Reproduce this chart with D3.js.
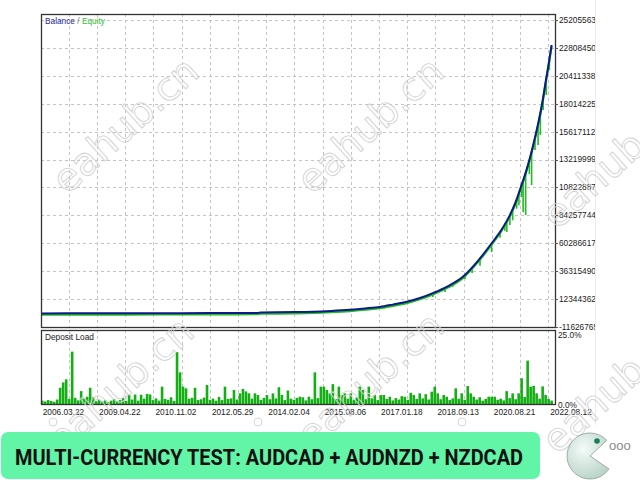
<!DOCTYPE html>
<html>
<head>
<meta charset="utf-8">
<script src="https://cdn.jsdelivr.net/npm/d3@7"></script>
<style>
  body { margin: 0; background: #fff; }
  svg { display: block; }
</style>
</head>
<body>
<script>
// ---- data ----
var yTickLabels = ["25205563", "22808450", "20411338", "18014225", "15617112", "13219999",
                   "10822887", "84257744", "60286617", "36315490", "12344362", "-11626765"];
var yTickValues = [25205563, 22808450, 20411338, 18014225, 15617112, 13219999,
                   10822887, 8425774, 6028662, 3631549, 1234436, -1162677];

var dateLabels = ["2006.03.22", "2009.04.22", "2010.11.02", "2012.05.29", "2014.02.04",
                  "2015.08.06", "2017.01.18", "2018.09.13", "2020.08.21", "2022.08.12"];

// balance curve, position in grid steps and value
var balancePos = [0, 2, 4, 6, 7.7, 7.8, 9, 9.66, 10.3, 10.97, 11.5, 12.03, 12.49, 12.98, 13.45, 13.91,
                  14.45, 14.97, 15.5, 16.0, 16.33, 16.64, 16.85, 17.03, 17.2, 17.35, 17.5, 17.67,
                  17.8, 17.92, 18.02, 18.12];
var balanceValues = [5000, 12000, 22000, 35000, 50000, 90000, 115000, 150000, 220000, 320000, 430000,
                     560000, 760000, 1000000, 1330000, 1750000, 2350000, 3150000, 4500000, 6050000,
                     7150000, 8450000, 9600000, 10860000, 12100000, 13350000, 14800000, 16610000,
                     18250000, 20050000, 21500000, 23060000];

// equity drawdown spikes
var spikePos  = [13.91, 14.34, 14.62, 15.05, 15.3, 15.58, 15.99, 16.29, 16.46, 16.53, 16.64, 16.74,
                 16.88, 16.96, 17.06, 17.11, 17.2, 17.33, 17.41, 17.53, 17.64, 17.72, 17.82, 17.93, 18.04];
var spikeHigh = [1750000, 2220000, 2600000, 3300000, 3950000, 4750000, 6000000, 7000000, 7750000,
                 8000000, 8450000, 9000000, 9800000, 10350000, 11050000, 11450000, 12100000, 13200000,
                 13900000, 15100000, 16300000, 17200000, 18500000, 20200000, 21800000];
var spikeLow  = [1410000, 1840000, 2300000, 2950000, 3470000, 4100000, 5270000, 6500000, 7100000,
                 7000000, 7600000, 8000000, 9000000, 9300000, 10000000, 8700000, 8450000, 11970000,
                 11030000, 14040000, 14460000, 15320000, 17470000, 18760000, 20900000];

// deposit load, percent
var depositLoad = [
  1.2, 0.9, 1.4, 1.1, 0.8, 1.6, 5.8, 7.7, 8.8, 1.8,
  18.7, 2.2, 1.3, 4.6, 1.9, 2.6, 5.8, 2.4, 1.0, 1.5,
  0.9, 1.3, 0.7, 1.2, 1.8, 1.0, 1.4, 2.1, 1.1, 3.2,
  1.6, 3.4, 1.2, 3.3, 1.9, 3.6, 3.4, 1.4, 2.0, 1.2,
  6.2, 1.8, 1.5, 2.4, 1.1, 18.5, 11.3, 6.2, 5.6, 1.9,
  2.2, 5.8, 1.4, 1.7, 2.3, 6.8, 1.5, 1.9, 1.2, 2.5,
  1.4, 6.2, 1.8, 2.0, 5.0, 1.6, 3.8, 5.4, 4.5, 3.8,
  1.9, 3.8, 3.2, 1.5, 2.2, 3.2, 1.7, 3.8, 2.0, 6.0,
  3.2, 1.4, 4.8, 1.9, 1.5, 2.2, 2.6, 2.4, 1.3, 2.6,
  1.7, 11.3, 2.1, 6.2, 6.2, 5.0, 3.8, 7.1, 1.8, 6.2,
  3.2, 3.8, 1.9, 3.8, 1.5, 2.3, 6.2, 5.0, 1.7, 6.2,
  2.0, 3.2, 1.4, 3.2, 3.2, 1.8, 2.6, 1.3, 2.1, 1.6,
  2.8, 2.6, 1.5, 4.0, 3.2, 1.8, 3.8, 2.0, 3.5, 1.6,
  4.4, 6.2, 3.8, 1.7, 3.2, 2.6, 1.4, 2.0, 5.6, 1.9,
  3.8, 1.5, 6.4, 3.8, 2.6, 1.6, 2.4, 1.2, 1.8, 2.6,
  2.6, 2.6, 1.5, 1.9, 1.3, 4.6, 2.1, 3.8, 1.7, 3.8,
  9.2, 2.5, 15.5, 6.2, 6.5, 3.8, 1.9, 6.3, 3.2, 1.8, 1.2
];
var loadTickValues = [25, 0];
var loadTickLabels = ["25.0%", "0.0%"];

var titleText = "MULTI-CURRENCY TEST: AUDCAD + AUDNZD + NZDCAD";

// ---- layout ----
var W = 640, H = 480;
var plot = {left: 41, right: 555, top: 14, bottom: 327};
var load = {top: 330, bottom: 404};
var font = "'Liberation Sans', Arial, sans-serif";

var svg = d3.select("body").append("svg")
    .attr("width", W)
    .attr("height", H);

svg.append("rect").attr("width", W).attr("height", H).attr("fill", "#fff");

// the terminal picture ends at x=595
svg.append("defs").append("clipPath").attr("id", "pic")
  .append("rect").attr("x", 0).attr("y", 0).attr("width", 595).attr("height", 425);
svg.select("defs").append("clipPath").attr("id", "plotclip")
  .append("rect").attr("x", plot.left).attr("y", plot.top)
    .attr("width", plot.right - plot.left).attr("height", plot.bottom - plot.top);

var chart = svg.append("g").attr("clip-path", "url(#pic)");

svg.append("line")
    .attr("x1", 595.5).attr("x2", 595.5).attr("y1", 0).attr("y2", 425)
    .attr("stroke", "#ececec");

// scales
var x = d3.scaleLinear().domain([0, 18.24]).range([40.7, plot.right]);
var y = d3.scaleLinear()
    .domain([yTickValues[yTickValues.length - 1], yTickValues[0]])
    .range([plot.bottom, 20]);
var yLoad = d3.scaleLinear().domain([0, 25]).range([load.bottom, 334]);
var xBar = d3.scaleLinear()
    .domain([0, depositLoad.length - 1])
    .range([x(0) + 1.5, x(balancePos[balancePos.length - 1])]);

// grid
var gridX = d3.range(1, 19);
var grid = chart.append("g")
    .attr("stroke", "#c4c4c4")
    .attr("stroke-dasharray", "3,3")
    .attr("shape-rendering", "crispEdges");
grid.selectAll(".gx").data(gridX).enter().append("line")
    .attr("x1", function(d) { return Math.round(x(d)) + 0.5; })
    .attr("x2", function(d) { return Math.round(x(d)) + 0.5; })
    .attr("y1", plot.top).attr("y2", plot.bottom);
grid.selectAll(".gl").data(gridX).enter().append("line")
    .attr("x1", function(d) { return Math.round(x(d)) + 0.5; })
    .attr("x2", function(d) { return Math.round(x(d)) + 0.5; })
    .attr("y1", load.top).attr("y2", load.bottom);
grid.selectAll(".gy").data(yTickValues.slice(0, -1)).enter().append("line")
    .attr("x1", plot.left).attr("x2", plot.right)
    .attr("y1", function(d) { return Math.round(y(d)) + 0.5; })
    .attr("y2", function(d) { return Math.round(y(d)) + 0.5; });

// watermark, light outline behind the marks
var marks = [[125, 125], [370, 125], [615, 160], [120, 385], [370, 380], [615, 385]];
svg.append("g").selectAll("text").data(marks).enter().append("text")
    .attr("transform", function(d) { return "translate(" + d[0] + "," + d[1] + ") rotate(-42)"; })
    .attr("text-anchor", "middle")
    .attr("dy", "0.35em")
    .attr("font-family", "'DejaVu Sans', sans-serif")
    .attr("font-size", 39)
    .attr("fill", "none")
    .attr("stroke", "#d2d2d2")
    .attr("stroke-width", 0.9)
    .text("eahub.cn");
svg.append("g").selectAll("circle").data([53, 258, 462]).enter().append("circle")
    .attr("cx", function(d) { return d; }).attr("cy", 422).attr("r", 4)
    .attr("fill", "none").attr("stroke", "#d2d2d2").attr("stroke-width", 0.9);

// deposit load bars
chart.append("g").selectAll("rect").data(depositLoad).enter().append("rect")
    .attr("x", function(d, i) { return xBar(i) - 1.3; })
    .attr("width", 2.6)
    .attr("y", function(d) { return yLoad(d); })
    .attr("height", function(d) { return load.bottom - yLoad(d); })
    .attr("fill", "#12b012");

// equity and balance
var balData = balancePos.map(function(p, i) { return [p, balanceValues[i]]; });
var line = d3.line()
    .x(function(d) { return x(d[0]); })
    .y(function(d) { return y(d[1]); })
    .curve(d3.curveMonotoneX);

var lines = chart.append("g").attr("clip-path", "url(#plotclip)");
lines.append("path").datum(balData)
    .attr("d", line)
    .attr("transform", "translate(0,1.3)")
    .attr("fill", "none")
    .attr("stroke", "#22bb22")
    .attr("stroke-width", 2.2);
lines.append("g").selectAll("line").data(spikePos).enter().append("line")
    .attr("x1", function(d) { return x(d); })
    .attr("x2", function(d) { return x(d); })
    .attr("y1", function(d, i) { return y(spikeHigh[i]); })
    .attr("y2", function(d, i) { return y(spikeLow[i]); })
    .attr("stroke", "#22bb22")
    .attr("stroke-width", 1.6);
lines.append("path").datum(balData)
    .attr("d", line)
    .attr("fill", "none")
    .attr("stroke", "#0c1a8a")
    .attr("stroke-width", 2);

// frames
chart.append("rect")
    .attr("x", plot.left + 0.5).attr("y", plot.top + 0.5)
    .attr("width", plot.right - plot.left).attr("height", plot.bottom - plot.top)
    .attr("fill", "none").attr("stroke", "#333").attr("stroke-width", 1.3);
chart.append("rect")
    .attr("x", plot.left + 0.5).attr("y", load.top + 0.5)
    .attr("width", plot.right - plot.left).attr("height", load.bottom - load.top)
    .attr("fill", "none").attr("stroke", "#333").attr("stroke-width", 1.3);

// y axis labels
var yAxis = chart.append("g").attr("font-family", font).attr("font-size", 8.3).attr("fill", "#222");
yAxis.selectAll("line").data(yTickValues).enter().append("line")
    .attr("x1", plot.right).attr("x2", plot.right + 3)
    .attr("y1", function(d) { return Math.round(y(d)) + 0.5; })
    .attr("y2", function(d) { return Math.round(y(d)) + 0.5; })
    .attr("stroke", "#555");
yAxis.selectAll("text").data(yTickValues).enter().append("text")
    .attr("x", plot.right + 4)
    .attr("y", function(d) { return y(d); })
    .attr("dy", "0.35em")
    .text(function(d, i) { return yTickLabels[i]; });

var loadAxis = chart.append("g").attr("font-family", font).attr("font-size", 8.3).attr("fill", "#222");
loadAxis.selectAll("text").data(loadTickValues).enter().append("text")
    .attr("x", plot.right + 3)
    .attr("y", function(d) { return yLoad(d) + 1; })
    .attr("dy", "0.35em")
    .text(function(d, i) { return loadTickLabels[i]; });

// date labels, every second grid line
chart.append("g").attr("font-family", font).attr("font-size", 8.3).attr("fill", "#222")
  .selectAll("text").data(dateLabels).enter().append("text")
    .attr("x", function(d, i) { return x(i * 2) + 2; })
    .attr("y", 412)
    .attr("dy", "0.35em")
    .text(function(d) { return d; });

// panel captions
var legend = chart.append("text")
    .attr("x", 45).attr("y", 21.5).attr("dy", "0.35em")
    .attr("font-family", font).attr("font-size", 8.3);
legend.append("tspan").attr("fill", "#2a2aa0").text("Balance");
legend.append("tspan").attr("fill", "#777").text(" / ");
legend.append("tspan").attr("fill", "#33c033").text("Equity");

chart.append("text")
    .attr("x", 45).attr("y", 337).attr("dy", "0.35em")
    .attr("font-family", font).attr("font-size", 8.3).attr("fill", "#222")
    .text("Deposit Load");

// banner
svg.append("rect")
    .attr("x", 1).attr("y", 432).attr("width", 539).attr("height", 47).attr("rx", 7)
    .attr("fill", "#62f5a8");
svg.append("text")
    .attr("x", 269).attr("y", 457).attr("dy", "0.35em")
    .attr("text-anchor", "middle")
    .attr("font-family", "Roboto, 'Liberation Sans', sans-serif")
    .attr("font-weight", 700)
    .attr("font-size", 22)
    .attr("textLength", 508)
    .attr("lengthAdjust", "spacingAndGlyphs")
    .attr("fill", "#111")
    .text(titleText);

// logo
var logo = svg.append("g").attr("transform", "translate(590,456)");
var grad = svg.select("defs").append("radialGradient").attr("id", "pac")
    .attr("cx", "40%").attr("cy", "35%").attr("r", "70%");
grad.append("stop").attr("offset", "0%").attr("stop-color", "#f4fbf8");
grad.append("stop").attr("offset", "100%").attr("stop-color", "#b9d3c8");
logo.append("path")
    .attr("d", d3.arc().innerRadius(0).outerRadius(23)
        .startAngle(Math.PI / 2 + 0.6).endAngle(Math.PI / 2 + 2 * Math.PI - 0.75)())
    .attr("fill", "url(#pac)")
    .attr("stroke", "#9ab0a6")
    .attr("stroke-width", 1);
logo.append("circle").attr("cx", 7).attr("cy", -15).attr("r", 2.8).attr("fill", "#17805a");
logo.append("text")
    .attr("x", 19).attr("y", -6)
    .attr("font-family", font).attr("font-size", 13).attr("fill", "#8a8a8a")
    .text("ooo");
</script>
</body>
</html>
